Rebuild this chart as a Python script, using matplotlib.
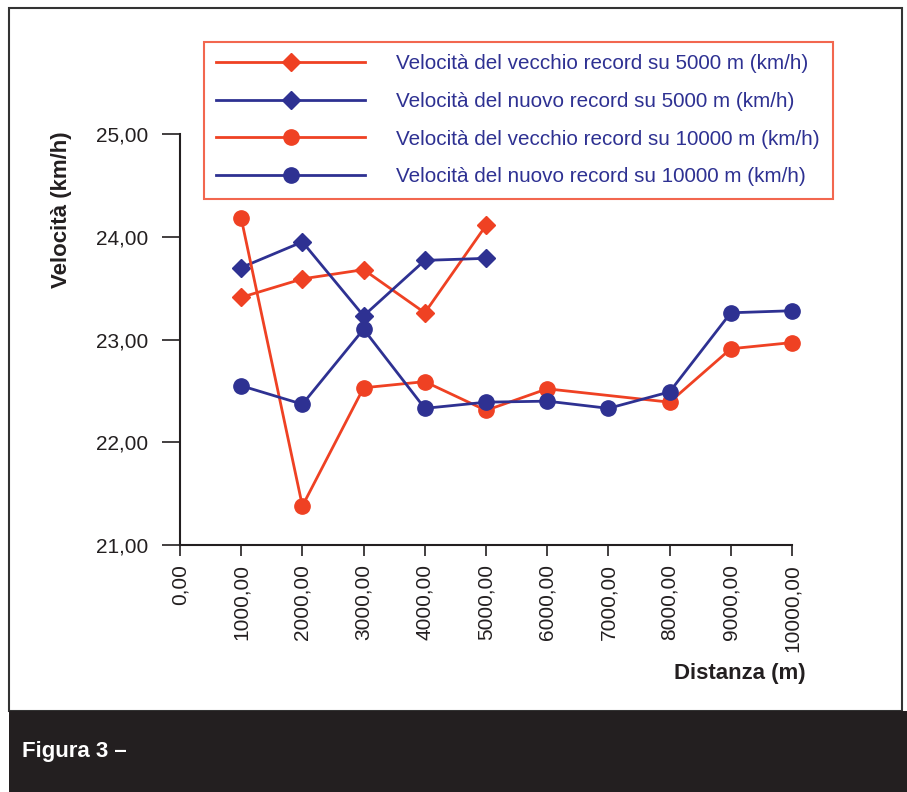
import matplotlib.pyplot as plt
from matplotlib.patches import Rectangle
from matplotlib.ticker import FuncFormatter

# Data (distance in m, speed in km/h)
dist_5000 = [1000, 2000, 3000, 4000, 5000]
old_5000 = [23.41, 23.59, 23.68, 23.26, 24.11]
new_5000 = [23.70, 23.95, 23.23, 23.77, 23.79]

dist_old_10000 = [1000, 2000, 3000, 4000, 5000, 6000, 8000, 9000, 10000]
old_10000 = [24.18, 21.38, 22.53, 22.59, 22.31, 22.52, 22.39, 22.91, 22.97]

dist_new_10000 = [1000, 2000, 3000, 4000, 5000, 6000, 7000, 8000, 9000, 10000]
new_10000 = [22.55, 22.37, 23.10, 22.33, 22.39, 22.40, 22.33, 22.49, 23.26, 23.28]

labels = [
    'Velocità del vecchio record su 5000 m (km/h)',
    'Velocità del nuovo record su 5000 m (km/h)',
    'Velocità del vecchio record su 10000 m (km/h)',
    'Velocità del nuovo record su 10000 m (km/h)',
]

x_ticks = [0, 1000, 2000, 3000, 4000, 5000, 6000, 7000, 8000, 9000, 10000]
y_ticks = [21, 22, 23, 24, 25]

RED = '#ef4123'
BLUE = '#2e3192'
TEXT_BLUE = '#2e3192'
DARK = '#231f20'

plt.rcParams['font.family'] = ['Liberation Sans', 'DejaVu Sans']

fig = plt.figure(figsize=(9.07, 7.92), dpi=100)

# outer frame and dark caption band
fig.patches.append(Rectangle((9 / 907, 1 - 711 / 792), 893 / 907, 703 / 792,
                             transform=fig.transFigure, fill=False,
                             edgecolor='#333333', linewidth=1.5))
fig.patches.append(Rectangle((9 / 907, 0), 898 / 907, 81 / 792,
                             transform=fig.transFigure, facecolor=DARK,
                             edgecolor='none'))
fig.text(22 / 907, 1 - 752 / 792, 'Figura 3 –', color='white', fontsize=16,
         fontweight='bold', va='center', ha='left',
         family=['Liberation Sans Narrow', 'Liberation Sans', 'DejaVu Sans'])

ax = fig.add_axes([180 / 907, 1 - 545 / 792, 612 / 907, 411 / 792])

lw = 2
ms = 11
l1, = ax.plot(dist_5000, old_5000, color=RED, marker='D', markersize=9.5, lw=lw, clip_on=False)
l2, = ax.plot(dist_5000, new_5000, color=BLUE, marker='D', markersize=9.5, lw=lw, clip_on=False)
l3, = ax.plot(dist_old_10000, old_10000, color=RED, marker='o', markersize=ms, lw=lw, clip_on=False)
l4, = ax.plot(dist_new_10000, new_10000, color=BLUE, marker='o', markersize=ms, lw=lw, clip_on=False)

ax.set_xlim(0, 10000)
ax.set_ylim(21, 25)
ax.set_xticks(x_ticks)
ax.set_yticks(y_ticks)
fmt = FuncFormatter(lambda v, p: f'{v:.2f}'.replace('.', ','))
ax.xaxis.set_major_formatter(fmt)
ax.yaxis.set_major_formatter(fmt)
ax.tick_params(axis='x', rotation=90, labelsize=15, length=8, width=1.2, pad=6, colors='#231f20')
ax.tick_params(axis='y', labelsize=15, length=13, width=1.2, pad=10, colors='#231f20')

for side in ['top', 'right']:
    ax.spines[side].set_visible(False)
for side in ['left', 'bottom']:
    ax.spines[side].set_linewidth(1.5)
    ax.spines[side].set_color('#231f20')

fig.text(62 / 907, 1 - 210 / 792, 'Velocità (km/h)', rotation=90, fontsize=16,
         fontweight='bold', ha='center', va='center', color='#231f20')
fig.text(806 / 907, 1 - 673 / 792, 'Distanza (m)', fontsize=16,
         fontweight='bold', ha='right', va='center', color='#231f20')

leg = fig.legend([l1, l2, l3, l4], labels,
                 loc='upper left', bbox_to_anchor=(204 / 907, 1 - 42 / 792),
                 frameon=True, fancybox=False, fontsize=14.9,
                 handlelength=7.2, handletextpad=1.5, labelspacing=0.9,
                 borderpad=0.6, borderaxespad=0, labelcolor=TEXT_BLUE)
leg.get_frame().set_edgecolor(RED)
leg.get_frame().set_linewidth(1.5)

fig.savefig('out.png', dpi=100)
